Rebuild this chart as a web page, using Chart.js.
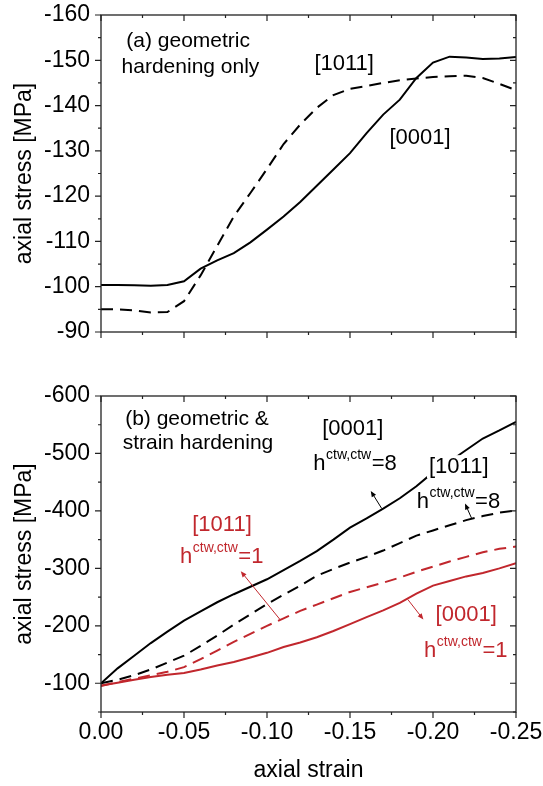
<!DOCTYPE html>
<html>
<head>
<meta charset="utf-8">
<title>axial stress vs axial strain</title>
<script src="https://cdn.jsdelivr.net/npm/chart.js@4.4.1/dist/chart.umd.min.js"></script>
<style>
  html, body { margin: 0; padding: 0; background: #fff; }
  #wrap { position: relative; width: 543px; height: 786px; }
  #wrap canvas { position: absolute; left: 0; }
</style>
</head>
<body>
<div id="wrap">
  <canvas id="chartA" width="543" height="345" style="top:0"></canvas>
  <canvas id="chartB" width="543" height="441" style="top:345px"></canvas>
</div>
<script>
/* ---- data ---- */
const strain = [0, -0.01, -0.02, -0.03, -0.04, -0.05, -0.06, -0.07, -0.08, -0.09, -0.10,
    -0.11, -0.12, -0.13, -0.14, -0.15, -0.16, -0.17, -0.18, -0.19, -0.20,
    -0.21, -0.22, -0.23, -0.24, -0.25];

// (a) geometric hardening only
const geo0001 = [-100.4, -100.4, -100.3, -100.2, -100.4, -101.2, -104.0, -105.8, -107.4, -109.8, -112.6,
    -115.5, -118.7, -122.3, -125.9, -129.5, -133.9, -138.0, -141.3, -146.1, -149.5,
    -150.8, -150.6, -150.3, -150.4, -150.7];
const geo1011 = [-95.0, -95.0, -94.8, -94.3, -94.4, -96.8, -102.5, -109.0, -115.5, -120.7, -126.0,
    -131.5, -135.8, -139.5, -142.3, -143.7, -144.3, -145.0, -145.6, -146.0, -146.3,
    -146.5, -146.6, -146.1, -144.8, -143.4];

// (b) geometric & strain hardening
const h8_0001 = [-100, -126, -148, -170, -190, -209, -225, -241, -255, -268, -281,
    -297, -313, -330, -350, -371, -387, -404, -422, -443, -467,
    -486, -506, -526, -540, -555];
const h8_1011 = [-100, -106, -114, -124, -136, -148, -165, -183, -202, -220, -238,
    -254, -270, -287, -299, -310, -320, -331, -344, -357, -366,
    -375, -384, -391, -397, -401];
const h1_1011 = [-95, -102, -108, -114, -120, -128, -142, -157, -172, -186, -200,
    -213, -226, -237, -248, -259, -267, -275, -284, -294, -303,
    -312, -320, -328, -334, -338];
const h1_0001 = [-96, -101, -106, -111, -115, -118, -124, -131, -137, -145, -153,
    -163, -171, -180, -191, -203, -215, -227, -240, -256, -270,
    -278, -286, -292, -300, -309];

const BLACK = '#000000';
const RED = '#c1272d';
const FONT = '"Liberation Sans", Arial, Helvetica, sans-serif';

Chart.defaults.font.family = FONT;
Chart.defaults.color = '#000';

function pts(ys) {
    return strain.map((x, i) => ({ x: x, y: ys[i] }));
}

function isMajor(v, step) {
    const r = v / step;
    return Math.abs(r - Math.round(r)) < 1e-6;
}

/* ---- annotations (data coordinates) ---- */
const notesA = [
    { text: '(a) geometric', x: -0.0525, y: -153.0, size: 21, color: BLACK },
    { text: 'hardening only', x: -0.0539, y: -147.2, size: 21, color: BLACK },
    { text: '[1011]', x: -0.1465, y: -147.9, size: 22, color: BLACK },
    { text: '[0001]', x: -0.1922, y: -131.6, size: 22, color: BLACK }
];
const notesB = [
    { text: '(b) geometric &', x: -0.0578, y: -549.9, size: 21, color: BLACK },
    { text: 'strain hardening', x: -0.0584, y: -507.3, size: 21, color: BLACK },
    { text: '[0001]', x: -0.1517, y: -532.5, size: 22, color: BLACK },
    { text: '[1011]', x: -0.2155, y: -466.4, size: 22, color: BLACK, blank: true },
    { text: '[1011]', x: -0.0729, y: -365.6, size: 22, color: RED },
    { text: '[0001]', x: -0.2200, y: -209.0, size: 22, color: RED }
];
const hLabelsB = [
    { x: -0.1279, y: -472.0, val: '8', color: BLACK },
    { x: -0.1902, y: -405.9, val: '8', color: BLACK },
    { x: -0.0476, y: -308.5, val: '1', color: RED },
    { x: -0.1946, y: -146.1, val: '1', color: RED }
];
const arrowsB = [
    { x1: -0.1691, y1: -404.2, x2: -0.1625, y2: -434.8, color: BLACK },
    { x1: -0.2233, y1: -386.8, x2: -0.2193, y2: -412.9, color: BLACK },
    { x1: -0.1078, y1: -211.1, x2: -0.0842, y2: -295.1, color: RED },
    { x1: -0.1848, y1: -245.9, x2: -0.1942, y2: -211.1, color: RED }
];

/* ---- plugins ---- */
// box frame with minor/major ticks: out on left & bottom, in on right & top
const frameTicks = {
    id: 'frameTicks',
    afterDraw(chart, args, opts) {
        const { ctx, chartArea: a, scales: { x, y } } = chart;
        ctx.save();
        ctx.strokeStyle = '#222';
        ctx.lineWidth = 1.3;
        ctx.strokeRect(a.left, a.top, a.right - a.left, a.bottom - a.top);
        ctx.lineWidth = 1.2;
        ctx.beginPath();
        x.ticks.forEach(t => {
            const px = x.getPixelForValue(t.value);
            const len = isMajor(t.value, opts.xMajor) ? 6 : 3;
            ctx.moveTo(px, a.bottom); ctx.lineTo(px, a.bottom + len);
            ctx.moveTo(px, a.top); ctx.lineTo(px, a.top + len);
        });
        y.ticks.forEach(t => {
            const py = y.getPixelForValue(t.value);
            const len = isMajor(t.value, opts.yMajor) ? 6 : 3;
            ctx.moveTo(a.left, py); ctx.lineTo(a.left - len, py);
            ctx.moveTo(a.right, py); ctx.lineTo(a.right - len, py);
        });
        ctx.stroke();
        ctx.restore();
    }
};

function drawArrow(ctx, x1, y1, x2, y2, color) {
    const ang = Math.atan2(y2 - y1, x2 - x1);
    ctx.strokeStyle = color;
    ctx.fillStyle = color;
    ctx.lineWidth = 1;
    ctx.beginPath();
    ctx.moveTo(x1, y1);
    ctx.lineTo(x2 - 4 * Math.cos(ang), y2 - 4 * Math.sin(ang));
    ctx.stroke();
    ctx.beginPath();
    ctx.moveTo(x2, y2);
    ctx.lineTo(x2 - 6 * Math.cos(ang) + 2.5 * Math.sin(ang), y2 - 6 * Math.sin(ang) - 2.5 * Math.cos(ang));
    ctx.lineTo(x2 - 6 * Math.cos(ang) - 2.5 * Math.sin(ang), y2 - 6 * Math.sin(ang) + 2.5 * Math.cos(ang));
    ctx.closePath();
    ctx.fill();
}

const notesPlugin = {
    id: 'notes',
    afterDatasetsDraw(chart, args, opts) {
        const { ctx, scales: { x, y } } = chart;
        ctx.save();
        ctx.textBaseline = 'alphabetic';
        (opts.notes || []).forEach(n => {
            const px = x.getPixelForValue(n.x);
            const py = y.getPixelForValue(n.y);
            ctx.font = n.size + 'px ' + FONT;
            ctx.textAlign = 'center';
            if (n.blank) {
                const w = ctx.measureText(n.text).width;
                ctx.fillStyle = '#fff';
                ctx.fillRect(px - w / 2 - 2, py - n.size * 0.8, w + 4, n.size * 1.05);
            }
            ctx.fillStyle = n.color;
            ctx.fillText(n.text, px, py);
        });
        (opts.hLabels || []).forEach(h => {
            let px = x.getPixelForValue(h.x);
            const py = y.getPixelForValue(h.y);
            ctx.textAlign = 'left';
            ctx.fillStyle = h.color;
            ctx.font = '22px ' + FONT;
            ctx.fillText('h', px, py);
            px += ctx.measureText('h').width + 0.5;
            ctx.font = '14px ' + FONT;
            ctx.fillText('ctw,ctw', px, py - 11);
            px += ctx.measureText('ctw,ctw').width + 0.5;
            ctx.font = '22px ' + FONT;
            ctx.fillText('=' + h.val, px, py);
        });
        (opts.arrows || []).forEach(r => {
            drawArrow(ctx, x.getPixelForValue(r.x1), y.getPixelForValue(r.y1),
                x.getPixelForValue(r.x2), y.getPixelForValue(r.y2), r.color);
        });
        ctx.restore();
    }
};

function lineSet(ys, color, dashed) {
    return {
        data: pts(ys),
        borderColor: color,
        borderWidth: 2,
        borderDash: dashed ? [12, 7] : [],
        pointRadius: 0,
        tension: 0,
        fill: false
    };
}

function xAxis(showLabels, height) {
    return {
        type: 'linear',
        min: -0.25,
        max: 0,
        reverse: true,
        grid: { display: false, drawTicks: false },
        border: { display: false },
        ticks: {
            display: showLabels,
            stepSize: 0.025,
            padding: 7,
            autoSkip: false,
            maxRotation: 0,
            font: { size: 23 },
            color: '#000',
            callback: v => isMajor(v, 0.05) ? (Math.abs(v) < 1e-9 ? '0.00' : v.toFixed(2)) : ''
        },
        title: {
            display: showLabels,
            text: 'axial strain',
            font: { size: 23 },
            color: '#000',
            padding: { top: 0, bottom: 2 }
        },
        afterFit: s => {
            s.height = height;
            s.paddingLeft = 0;
            s.paddingRight = 0;
        }
    };
}

function yAxis(min, max, step, major) {
    return {
        type: 'linear',
        min: min,
        max: max,
        reverse: true,
        grid: { display: false, drawTicks: false },
        border: { display: false },
        ticks: {
            stepSize: step,
            padding: 11,
            autoSkip: false,
            font: { size: 23 },
            color: '#000',
            callback: v => isMajor(v, major) ? String(v) : ''
        },
        title: {
            display: true,
            text: 'axial stress [MPa]',
            font: { size: 23 },
            color: '#000',
            padding: { top: 11, bottom: 0 }
        },
        afterFit: s => {
            s.width = 101;
            s.paddingTop = 0;
            s.paddingBottom = 0;
        }
    };
}

const baseOpts = {
    responsive: false,
    animation: false,
    events: [],
    plugins: {
        legend: { display: false },
        tooltip: { enabled: false }
    }
};

// (a) geometric hardening only
new Chart(document.getElementById('chartA'), {
    type: 'line',
    data: {
        datasets: [
            lineSet(geo0001, BLACK, false),
            lineSet(geo1011, BLACK, true)
        ]
    },
    options: Object.assign({}, baseOpts, {
        layout: { padding: { top: 15, right: 27, left: 0, bottom: 0 } },
        scales: {
            x: xAxis(false, 13),
            y: yAxis(-160, -90, 5, 10)
        },
        plugins: Object.assign({}, baseOpts.plugins, {
            frameTicks: { xMajor: 0.05, yMajor: 10 },
            notes: { notes: notesA }
        })
    }),
    plugins: [frameTicks, notesPlugin]
});

// (b) geometric & strain hardening
new Chart(document.getElementById('chartB'), {
    type: 'line',
    data: {
        datasets: [
            lineSet(h8_0001, BLACK, false),
            lineSet(h8_1011, BLACK, true),
            lineSet(h1_1011, RED, true),
            lineSet(h1_0001, RED, false)
        ]
    },
    options: Object.assign({}, baseOpts, {
        layout: { padding: { top: 51, right: 27, left: 0, bottom: 0 } },
        scales: {
            x: xAxis(true, 74),
            y: yAxis(-600, -50, 50, 100)
        },
        plugins: Object.assign({}, baseOpts.plugins, {
            frameTicks: { xMajor: 0.05, yMajor: 100 },
            notes: { notes: notesB, hLabels: hLabelsB, arrows: arrowsB }
        })
    }),
    plugins: [frameTicks, notesPlugin]
});
</script>
</body>
</html>
